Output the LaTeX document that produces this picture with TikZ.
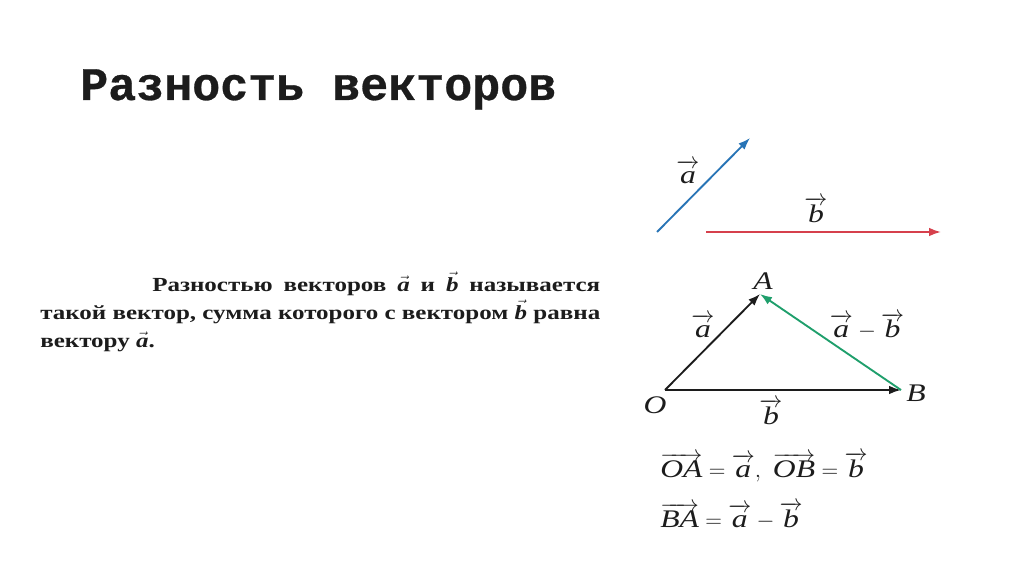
\documentclass[tikz,border=0pt]{standalone}
\usepackage{fontspec}
\setmainfont[FakeStretch=1.25]{Liberation Serif}
\newfontfamily\titlefont[BoldFeatures={FakeBold=0.6}]{Liberation Mono}
\usetikzlibrary{arrows.meta,backgrounds}
\definecolor{bgColor}{HTML}{ffffff}
\definecolor{fgColor}{HTML}{1c1c1c}
\definecolor{aColor}{HTML}{2874b6}
\definecolor{bColor}{HTML}{d6404c}
\definecolor{dColor}{HTML}{1f9f6c}
\newcommand{\vecit}[1]{\overrightarrow{\textit{#1}\vphantom{b}}}

\begin{document}
\begin{tikzpicture}[x=0.75pt,y=0.75pt,yscale=-1,xscale=1, background rectangle/.style={fill=bgColor}, show background rectangle,
		vec/.style={line width=1.4pt, -{Latex[length=9pt,width=6.5pt]}},
		lbl/.style={text=fgColor, inner sep=0.75pt, font=\fontsize{19}{23}\selectfont}]
		\useasboundingbox (0,0) rectangle (1024,574);

		% Title
		\draw (80,100) node [anchor=base west, inner sep=0pt, text=fgColor] {\titlefont\bfseries\fontsize{35}{40}\selectfont Разность векторов};

		% Definition
		\draw (40,291) node [anchor=base west, inner sep=0pt, text=fgColor, text width=420pt, align=justify, font=\fontsize{15}{21}\selectfont\bfseries] (def) {\hspace*{84pt}Разностью векторов $\vec{\textit{a}}$ и $\vec{\textit{b}}$ называется\linebreak такой вектор, сумма которого с вектором $\vec{\textit{b}}$ равна\linebreak вектору $\vec{\textit{a}}$.};

		% Points
		\coordinate (a0) at (657,232);
		\coordinate (a1) at (750,138);
		\coordinate (b0) at (706,232);
		\coordinate (b1) at (941,232);
		\coordinate (O) at (665,390);
		\coordinate (A) at (760,294);
		\coordinate (B) at (901,390);

		% Vectors
		\draw [vec, aColor] (a0) -- (a1);
		\draw [vec, bColor] (b0) -- (b1);
		\draw [vec, fgColor] (O) -- (A);
		\draw [vec, fgColor] (O) -- (B);
		\draw [vec, dColor] (B) -- (A);

		% Text Node
		\draw (688,172) node [lbl] (la) {$\vecit{a}$};
		\draw (816,210) node [lbl] (lb) {$\vecit{b}$};
		\draw (703,326) node [lbl] (lOA) {$\vecit{a}$};
		\draw (867,326) node [lbl] (lBA) {$\vecit{a}-\vecit{b}$};
		\draw (771,412) node [lbl] (lOB) {$\vecit{b}$};
		\draw (A) ++(3,-13) node [lbl] (nA) {\textit{A}};
		\draw (O) ++(-10,15) node [lbl] (nO) {\textit{O}};
		\draw (B) ++(15,3) node [lbl] (nB) {\textit{B}};
		\draw (659,477) node [lbl, anchor=base west] (eq1) {$\vecit{OA}=\vecit{a},\ \vecit{OB}=\vecit{b}$};
		\draw (659,527) node [lbl, anchor=base west] (eq2) {$\vecit{BA}=\vecit{a}-\vecit{b}$};
	\end{tikzpicture}
\end{document}
